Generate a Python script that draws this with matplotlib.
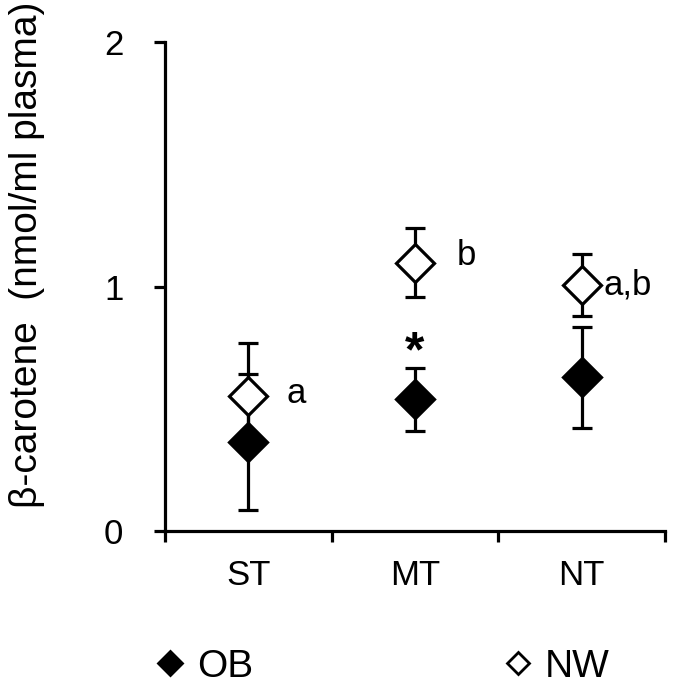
import matplotlib

matplotlib.use("Agg")
from matplotlib import pyplot as plt
from matplotlib.lines import Line2D

plt.rcParams.update(
    {
        "font.family": ["Liberation Sans", "DejaVu Sans"],
        "font.size": 25,
    }
)

# data
categories = ["ST", "MT", "NT"]
ob_mean = [0.367, 0.540, 0.630]
ob_err = [0.278, 0.130, 0.205]
nw_mean = [0.554, 1.099, 1.008]
nw_err = [0.218, 0.140, 0.125]
letters = ["a", "b", "a,b"]
letter_y = [0.525, 1.090, 0.967]
letter_dx = [0.23, 0.25, 0.13]
star_y = 0.675

x = [1, 2, 3]

fig = plt.figure(figsize=(6.75, 6.88), dpi=100)
ax = fig.add_axes([0.2444, 0.2275, 0.7407, 0.7110])

common = dict(
    fmt="D",
    markersize=19.5,
    ecolor="black",
    elinewidth=2.3,
    capsize=7.5,
    capthick=2.3,
    markeredgecolor="black",
    markeredgewidth=2.3,
    linestyle="none",
)
ax.errorbar(x, ob_mean, yerr=ob_err, markerfacecolor="black", zorder=3, **common)
ax.errorbar(x, nw_mean, yerr=nw_err, markerfacecolor="white", zorder=4, **common)

for xi, lab, ly, dx in zip(x, letters, letter_y, letter_dx):
    ax.text(xi + dx, ly, lab, ha="left", va="baseline", fontsize=25)
ax.text(2, star_y, "*", ha="center", va="baseline", fontsize=36, fontweight="bold")

ax.set_xlim(0.5, 3.5)
ax.set_ylim(0, 2)
ax.set_yticks([0, 1, 2])
ax.set_xticks([0.5, 1.5, 2.5, 3.5])
ax.set_xticklabels([])
ax.set_xticks(x, minor=True)
ax.set_xticklabels(categories, minor=True)
ax.tick_params(axis="x", which="major", direction="out", length=8, width=2.3)
ax.tick_params(axis="x", which="minor", length=0, pad=20)
ax.tick_params(axis="y", direction="out", length=8, width=2.3, pad=22)
for side in ("top", "right"):
    ax.spines[side].set_visible(False)
for side in ("left", "bottom"):
    ax.spines[side].set_linewidth(2.3)

ax.set_ylabel("β-carotene  (nmol/ml plasma)", fontsize=28)
ax.yaxis.set_label_coords(-0.24, 0.565)

handles = [
    Line2D([], [], marker="D", linestyle="none", markersize=12.5,
           markerfacecolor="black", markeredgecolor="black", markeredgewidth=2),
    Line2D([], [], marker="D", linestyle="none", markersize=11.5,
           markerfacecolor="white", markeredgecolor="black", markeredgewidth=2),
]
fig.legend(
    handles,
    ["OB", "NW"],
    loc="center",
    bbox_to_anchor=(0.566, 0.0305),
    ncol=2,
    frameon=False,
    fontsize=28,
    handlelength=0.8,
    handletextpad=0.3,
    columnspacing=6.4,
)

fig.savefig("out.png", dpi=100, facecolor="white")
